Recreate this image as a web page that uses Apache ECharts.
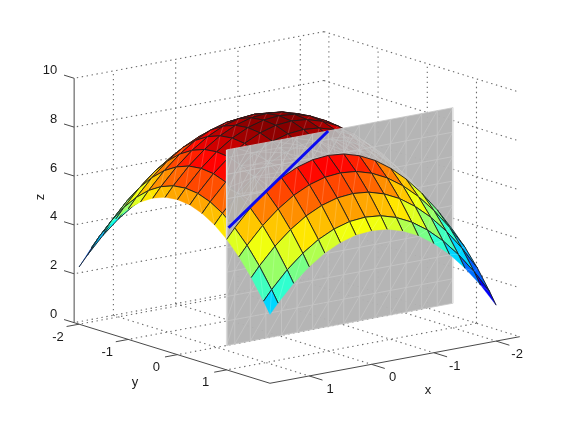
<!DOCTYPE html>
<html><head><meta charset="utf-8">
<style>html,body{margin:0;padding:0;background:#fff}#c{width:575px;height:432px}</style>
<script src="https://cdn.jsdelivr.net/npm/echarts@6/dist/echarts.min.js"></script>
</head><body><div id="c"></div>
<script>
const xTicks=[-2,-1,0,1];
const yTicks=[-2,-1,0,1];
const zTicks=[0,2,4,6,8,10];
const xLim=[-2.38,1.63];
const yLim=[-2.1,1.88];
const zLim=[0,10];
const xs=[-2,-1.75,-1.5,-1.25,-1,-0.75,-0.5,-0.25,0,0.25,0.5,0.75,1,1.25,1.5,1.63];
const ys=[-2,-1.75,-1.5,-1.25,-1,-0.75,-0.5,-0.25,0,0.25,0.5,0.75,1,1.25,1.5,1.75,1.88];
const surfaceZ=[
[1,1.94,2.75,3.44,4,4.44,4.75,4.94,5,4.94,4.75,4.44,4,3.44,2.75,1.94,1.47],
[1.94,2.88,3.69,4.38,4.94,5.38,5.69,5.88,5.94,5.88,5.69,5.38,4.94,4.38,3.69,2.88,2.41],
[2.75,3.69,4.5,5.19,5.75,6.19,6.5,6.69,6.75,6.69,6.5,6.19,5.75,5.19,4.5,3.69,3.22],
[3.44,4.38,5.19,5.88,6.44,6.88,7.19,7.38,7.44,7.38,7.19,6.88,6.44,5.88,5.19,4.38,3.91],
[4,4.94,5.75,6.44,7,7.44,7.75,7.94,8,7.94,7.75,7.44,7,6.44,5.75,4.94,4.47],
[4.44,5.38,6.19,6.88,7.44,7.88,8.19,8.38,8.44,8.38,8.19,7.88,7.44,6.88,6.19,5.38,4.91],
[4.75,5.69,6.5,7.19,7.75,8.19,8.5,8.69,8.75,8.69,8.5,8.19,7.75,7.19,6.5,5.69,5.22],
[4.94,5.88,6.69,7.38,7.94,8.38,8.69,8.88,8.94,8.88,8.69,8.38,7.94,7.38,6.69,5.88,5.41],
[5,5.94,6.75,7.44,8,8.44,8.75,8.94,9,8.94,8.75,8.44,8,7.44,6.75,5.94,5.47],
[4.94,5.88,6.69,7.38,7.94,8.38,8.69,8.88,8.94,8.88,8.69,8.38,7.94,7.38,6.69,5.88,5.41],
[4.75,5.69,6.5,7.19,7.75,8.19,8.5,8.69,8.75,8.69,8.5,8.19,7.75,7.19,6.5,5.69,5.22],
[4.44,5.38,6.19,6.88,7.44,7.88,8.19,8.38,8.44,8.38,8.19,7.88,7.44,6.88,6.19,5.38,4.91],
[4,4.94,5.75,6.44,7,7.44,7.75,7.94,8,7.94,7.75,7.44,7,6.44,5.75,4.94,4.47],
[3.44,4.38,5.19,5.88,6.44,6.88,7.19,7.38,7.44,7.38,7.19,6.88,6.44,5.88,5.19,4.38,3.91],
[2.75,3.69,4.5,5.19,5.75,6.19,6.5,6.69,6.75,6.69,6.5,6.19,5.75,5.19,4.5,3.69,3.22],
[2.34,3.28,4.09,4.78,5.34,5.78,6.09,6.28,6.34,6.28,6.09,5.78,5.34,4.78,4.09,3.28,2.81]
];
const planeY=1;
const planeX=[-2,1.63];
const planeZ=[1,9];
const planeGridZ=[1,1.5,2,2.5,3,3.5,4,4.5,5,5.5,6,6.5,7,7.5,8,8.5,9];
const tangentX=[0,1.6];
const tangentZ=[9,5.8];

// view projection, in page pixels per data unit
const A=62.3,B=49.2,C=11.62,D=15.23,E=24.44,OX=279,OY=335.7;
const proj=(x,y,z)=>[-A*x+B*y, C*x+D*y-E*z];
const zMin=1,zMax=9;
const FONT='13px "Liberation Sans"',TXT='#1a1a1a';

function jet(t){
  t=Math.max(0,Math.min(1,t));
  const r=t<.375?0:t<.625?(t-.375)*4:t<.875?1:1-(t-.875)*4;
  const g=t<.125?0:t<.375?(t-.125)*4:t<.625?1:t<.875?1-(t-.625)*4:0;
  const b=t<.125?.5+t*4:t<.375?1:t<.625?1-(t-.375)*4:0;
  return 'rgb('+[r,g,b].map(v=>Math.round(v*255)).join(',')+')';
}
const pt=(api,x,y,z)=>api.coord(proj(x,y,z));
const line=(a,b,stroke,w,dash)=>({type:'line',silent:true,shape:{x1:a[0],y1:a[1],x2:b[0],y2:b[1]},style:{stroke,lineWidth:w,lineDash:dash||null}});

function layer(order,n,fn){
  return {type:'custom',coordinateSystem:'cartesian2d',xAxisIndex:0,yAxisIndex:0,z:order,silent:true,animation:false,clip:false,
    data:Array.from({length:n},()=>[0,0]),renderItem:(p,api)=>fn(p.dataIndex,api)};
}

// dotted walls and floor
const dots=[];
const [x0,x1]=xLim,[y0,y1]=yLim,[z0,z1]=zLim;
xTicks.forEach(k=>{dots.push([[k,y0,z0],[k,y1,z0]],[[k,y0,z0],[k,y0,z1]]);});
yTicks.forEach(k=>{dots.push([[x0,k,z0],[x1,k,z0]],[[x0,k,z0],[x0,k,z1]]);});
zTicks.forEach(k=>{dots.push([[x0,y0,k],[x1,y0,k]],[[x0,y0,k],[x0,y1,k]]);});
// solid axes
const axes=[[[x1,y0,z0],[x1,y0,z1]],[[x1,y0,z0],[x1,y1,z0]],[[x1,y1,z0],[x0,y1,z0]]];
const tickLenZ=0.205,tickLenY=0.2,tickLenX=0.27;
zTicks.forEach(k=>axes.push([[x1,y0,k],[x1,y0-tickLenZ,k]]));
yTicks.forEach(k=>axes.push([[x1,k,z0],[x1+tickLenY,k,z0]]));
xTicks.forEach(k=>axes.push([[k,y1,z0],[k,y1+tickLenX,z0]]));

// surface cells, far corner first
const backCells=[],frontCells=[];
for(let i=0;i<xs.length-1;i++)for(let j=0;j<ys.length-1;j++){
  (ys[j]<planeY?backCells:frontCells).push([i,j]);
}
function cell(c,api){
  const [i,j]=c;
  const a=pt(api,xs[i],ys[j],surfaceZ[i][j]),b=pt(api,xs[i+1],ys[j],surfaceZ[i+1][j]),
        d=pt(api,xs[i+1],ys[j+1],surfaceZ[i+1][j+1]),e=pt(api,xs[i],ys[j+1],surfaceZ[i][j+1]);
  const col=jet((surfaceZ[i][j]-zMin)/(zMax-zMin));
  const ch=[{type:'polygon',silent:true,shape:{points:[a,b,d,e]},style:{fill:col,stroke:col,lineWidth:.3}}];
  ch.push(line(a,d,'rgba(255,255,255,0.22)',.8));
  const K='#1c1c1c',W=.9;
  ch.push(line(a,e,K,W));               // x = xs[i]
  ch.push(line(a,b,K,W));               // y = ys[j]
  if(i+1<xs.length-1)ch.push(line(b,d,K,W));
  if(j+1<ys.length-1)ch.push(line(e,d,K,W));
  return {type:'group',children:ch};
}
// faint traces of the hidden part seen through the plane
function inPlane(x,y,z){
  const p=proj(x,y,z);
  const xp=(B*planeY-p[0])/A;
  const zp=(C*xp+D*planeY-p[1])/E;
  return xp>=planeX[0]&&xp<=planeX[1]&&zp>=planeZ[0]&&zp<=planeZ[1];
}
function ghost(c,api){
  const [i,j]=c;
  const q=[[i,j],[i+1,j],[i+1,j+1],[i,j+1]].map(([u,v])=>[xs[u],ys[v],surfaceZ[u][v]]);
  const ch=[];
  const S='rgba(198,198,198,0.7)';
  [[0,2],[1,3],[0,1],[0,3]].forEach(([u,v])=>{
    if(inPlane(...q[u])&&inPlane(...q[v]))ch.push(line(pt(api,...q[u]),pt(api,...q[v]),S,.7));
  });
  return {type:'group',children:ch};
}
const labels=[];
zTicks.forEach(k=>{const p=proj(x1,y0,k);labels.push({t:String(k),p,dx:-17,dy:-8,align:'right'});});
yTicks.forEach(k=>{const p=proj(x1,k,z0);labels.push({t:String(k),p,dx:-21,dy:13,align:'center'});});
xTicks.forEach(k=>{const p=proj(k,y1,z0);labels.push({t:String(k),p,dx:21,dy:13.5,align:'center'});});
const names=[{t:'x',px:428,py:390},{t:'y',px:135,py:382},{t:'z',px:40,py:197,rot:Math.PI/2}];

const series=[
  layer(1,dots.length,(i,api)=>line(pt(api,...dots[i][0]),pt(api,...dots[i][1]),'#6a6a6a',1.1,[1.4,3.6])),
  layer(2,axes.length,(i,api)=>line(pt(api,...axes[i][0]),pt(api,...axes[i][1]),'#4a4a4a',1)),
  layer(3,backCells.length,(i,api)=>cell(backCells[i],api)),
  layer(4,1,(i,api)=>{
    const a=pt(api,planeX[0],planeY,planeZ[0]),b=pt(api,planeX[1],planeY,planeZ[0]),
          c=pt(api,planeX[1],planeY,planeZ[1]),d=pt(api,planeX[0],planeY,planeZ[1]);
    const ch=[{type:'polygon',silent:true,shape:{points:[a,b,c,d]},style:{fill:'rgba(178,178,178,0.96)'}}];
    const S='#c6c6c6';
    xs.forEach(x=>ch.push(line(pt(api,x,planeY,planeZ[0]),pt(api,x,planeY,planeZ[1]),S,.8)));
    planeGridZ.forEach((z,n)=>{
      if(n%2==0)ch.push(line(pt(api,planeX[0],planeY,z),pt(api,planeX[1],planeY,z),S,.8));
    });
    for(let i2=0;i2<xs.length-1;i2++)for(let n=0;n<planeGridZ.length-2;n+=2){
      ch.push(line(pt(api,xs[i2+1],planeY,planeGridZ[n]),pt(api,xs[i2],planeY,planeGridZ[n+2]),S,.7));
    }
    ch.push(line(a,d,'#e2e2e2',1.5),line(b,c,'#dcdcdc',1.5));
    return {type:'group',children:ch};
  }),
  layer(5,backCells.length,(i,api)=>ghost(backCells[i],api)),
  layer(6,frontCells.length,(i,api)=>cell(frontCells[i],api)),
  layer(7,1,(i,api)=>line(pt(api,tangentX[0],planeY,tangentZ[0]),pt(api,tangentX[1],planeY,tangentZ[1]),'#0a0af0',3)),
  layer(8,labels.length,(i,api)=>{
    const l=labels[i],c=api.coord(l.p);
    return {type:'text',silent:true,style:{text:l.t,x:c[0]+l.dx,y:c[1]+l.dy,font:FONT,fill:TXT,align:l.align,verticalAlign:'middle'}};
  }),
  layer(9,names.length,(i,api)=>{
    const n=names[i],c=api.coord([n.px-OX,n.py-OY]);
    return {type:'text',silent:true,x:c[0],y:c[1],rotation:n.rot||0,style:{text:n.t,x:0,y:0,font:FONT,fill:TXT,align:'center',verticalAlign:'middle'}};
  })
];
const chart=echarts.init(document.getElementById('c'),null,{renderer:'canvas'});
chart.setOption({
  animation:false,backgroundColor:'#fff',
  grid:{left:0,top:0,right:0,bottom:0},
  xAxis:{type:'value',show:false,min:-OX,max:575-OX},
  yAxis:{type:'value',show:false,inverse:true,min:-OY,max:432-OY},
  series
});
</script></body></html>
